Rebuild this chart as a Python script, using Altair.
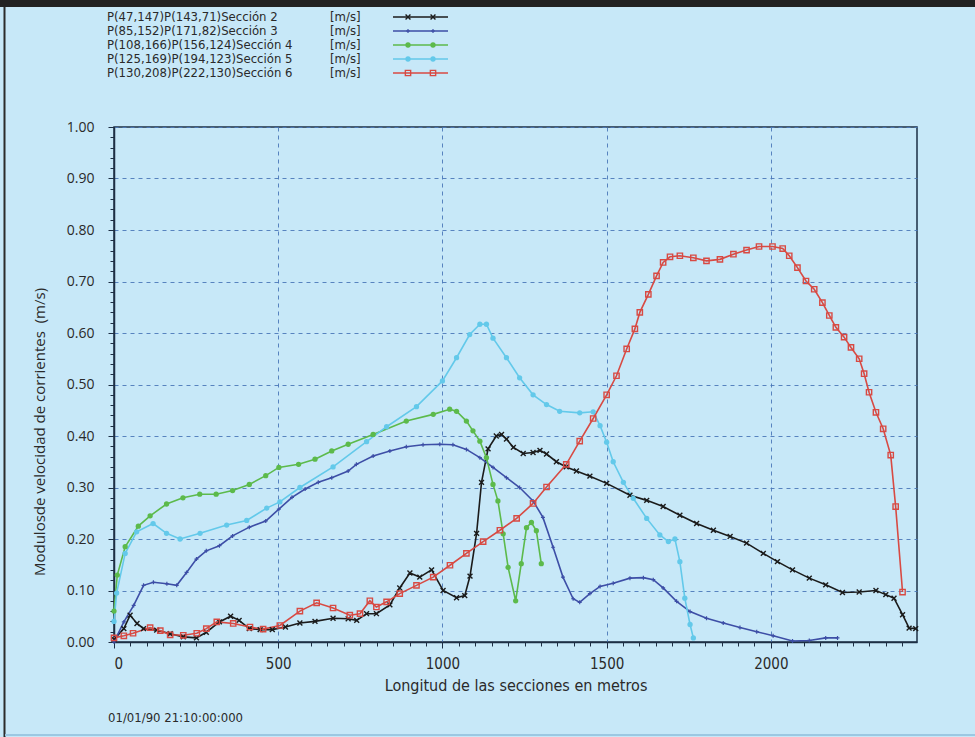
import altair as alt
import pandas as pd

# Series labels, units and colours
NAMES = [
    "P(47,147)P(143,71)Sección 2",
    "P(85,152)P(171,82)Sección 3",
    "P(108,166)P(156,124)Sección 4",
    "P(125,169)P(194,123)Sección 5",
    "P(130,208)P(222,130)Sección 6",
]
UNIT = "[m/s]"
COLORS = ["#1b1b1b", "#3d4ea6", "#5cba4b", "#63c9ea", "#d84a43"]

# Sección 2
X2 = [0, 30, 49, 70, 90, 130, 171, 211, 251, 281, 321, 355, 381, 412, 445, 482, 522, 566, 612,
      667, 713, 739, 769, 799, 840, 870, 901, 931, 967, 1002, 1043, 1068, 1084, 1104, 1119, 1139,
      1164, 1180, 1195, 1216, 1246, 1276, 1297, 1317, 1347, 1377, 1408, 1449, 1500, 1571, 1622,
      1672, 1723, 1774, 1825, 1876, 1926, 1977, 2020, 2066, 2117, 2167, 2218, 2269, 2320, 2350,
      2375, 2401, 2421, 2441]
Y2 = [0.005, 0.026, 0.052, 0.036, 0.026, 0.023, 0.016, 0.010, 0.008, 0.019, 0.039, 0.050, 0.042,
      0.026, 0.024, 0.024, 0.029, 0.037, 0.040, 0.046, 0.045, 0.042, 0.055, 0.055, 0.072, 0.105,
      0.134, 0.126, 0.140, 0.100, 0.086, 0.090, 0.128, 0.211, 0.310, 0.375, 0.400, 0.403, 0.394,
      0.378, 0.366, 0.368, 0.372, 0.365, 0.350, 0.340, 0.332, 0.322, 0.308, 0.285, 0.275, 0.263,
      0.246, 0.230, 0.217, 0.205, 0.192, 0.172, 0.156, 0.140, 0.124, 0.111, 0.096, 0.097, 0.100,
      0.092, 0.085, 0.053, 0.027, 0.026]

# Sección 3
X3 = [0, 30, 60, 90, 120, 161, 191, 221, 251, 281, 321, 361, 412, 462, 502, 542, 582, 622, 663,
      713, 738, 789, 840, 890, 941, 992, 1032, 1073, 1114, 1154, 1195, 1235, 1276, 1306, 1337,
      1367, 1398, 1418, 1449, 1480, 1520, 1571, 1612, 1642, 1672, 1713, 1754, 1804, 1855, 1906,
      1957, 2007, 2066, 2117, 2167, 2203]
Y3 = [0.000, 0.039, 0.071, 0.110, 0.116, 0.113, 0.110, 0.135, 0.161, 0.177, 0.187, 0.206, 0.223,
      0.235, 0.258, 0.281, 0.297, 0.310, 0.319, 0.332, 0.345, 0.361, 0.371, 0.379, 0.383, 0.384,
      0.383, 0.374, 0.358, 0.339, 0.319, 0.300, 0.274, 0.242, 0.184, 0.126, 0.084, 0.077, 0.094,
      0.108, 0.114, 0.124, 0.125, 0.121, 0.105, 0.079, 0.059, 0.046, 0.037, 0.028, 0.020, 0.012,
      0.002, 0.003, 0.008, 0.008]

# Sección 4
X4 = [0, 10, 34, 74, 110, 160, 210, 261, 311, 361, 412, 462, 502, 562, 612, 663, 713, 789, 890,
      972, 1022, 1043, 1073, 1093, 1114, 1134, 1154, 1169, 1185, 1200, 1223, 1240, 1256, 1271,
      1286, 1301]
Y4 = [0.060, 0.130, 0.185, 0.225, 0.245, 0.268, 0.280, 0.287, 0.287, 0.294, 0.306, 0.323, 0.339,
      0.345, 0.355, 0.371, 0.384, 0.403, 0.429, 0.442, 0.452, 0.448, 0.429, 0.410, 0.390, 0.358,
      0.306, 0.274, 0.210, 0.145, 0.080, 0.152, 0.222, 0.232, 0.216, 0.152]

# Sección 5
X5 = [0, 8, 34, 69, 119, 160, 201, 262, 343, 404, 465, 505, 566, 667, 769, 830, 921, 1000, 1043,
      1083, 1114, 1134, 1154, 1195, 1235, 1276, 1317, 1357, 1418, 1459, 1480, 1500, 1520, 1551,
      1581, 1622, 1662, 1688, 1708, 1723, 1738, 1754, 1764]
Y5 = [0.040, 0.095, 0.172, 0.214, 0.230, 0.211, 0.200, 0.211, 0.227, 0.236, 0.260, 0.272, 0.300,
      0.340, 0.389, 0.418, 0.457, 0.507, 0.552, 0.597, 0.617, 0.617, 0.590, 0.552, 0.513, 0.480,
      0.461, 0.448, 0.445, 0.447, 0.420, 0.388, 0.350, 0.310, 0.279, 0.240, 0.208, 0.195, 0.200,
      0.156, 0.085, 0.034, 0.008]

# Sección 6
X6 = [0, 30, 58, 110, 141, 171, 211, 252, 281, 313, 363, 414, 454, 505, 566, 617, 667, 718, 749,
      779, 799, 830, 870, 921, 972, 1023, 1073, 1124, 1175, 1226, 1276, 1317, 1377, 1418, 1459,
      1500, 1530, 1561, 1586, 1601, 1627, 1652, 1672, 1693, 1723, 1764, 1804, 1845, 1886, 1926,
      1964, 2005, 2036, 2056, 2081, 2107, 2132, 2157, 2178, 2198, 2223, 2244, 2269, 2284, 2299,
      2320, 2342, 2365, 2380, 2401]
Y6 = [0.008, 0.012, 0.017, 0.028, 0.022, 0.014, 0.013, 0.017, 0.026, 0.039, 0.036, 0.029, 0.025,
      0.032, 0.060, 0.076, 0.066, 0.052, 0.055, 0.080, 0.068, 0.078, 0.094, 0.110, 0.126, 0.149,
      0.172, 0.195, 0.217, 0.240, 0.269, 0.301, 0.345, 0.390, 0.434, 0.480, 0.517, 0.569, 0.608,
      0.640, 0.675, 0.711, 0.737, 0.748, 0.750, 0.746, 0.740, 0.743, 0.753, 0.761, 0.768, 0.768,
      0.764, 0.750, 0.727, 0.701, 0.685, 0.659, 0.634, 0.611, 0.592, 0.572, 0.550, 0.521, 0.485,
      0.446, 0.414, 0.363, 0.263, 0.097]

X_TICKS = [0, 500, 1000, 1500, 2000]
Y_TICKS = [0.0, 0.1, 0.2, 0.3, 0.4, 0.5, 0.6, 0.7, 0.8, 0.9, 1.0]
X_MINOR = list(range(0, 2445, 50))
Y_MINOR = [i / 50 for i in range(51)]
X_TITLE = "Longitud de las secciones en metros"
Y_TITLE = "Modulosde velocidad de corrientes \u00a0(m/s)"
STAMP = "01/01/90 21:10:00:000"

XS = [X2, X3, X4, X5, X6]
YS = [Y2, Y3, Y4, Y5, Y6]

rows = []
for name, xs, ys in zip(NAMES, XS, YS):
    for a, b in zip(xs, ys):
        rows.append({"serie": name, "x": a, "v": b})
df = pd.DataFrame(rows)

W, H = 803, 515
BG = "#c7e8f8"
GRID = "#4a78b8"
FRAME = "#1d2f44"
TXT = "#2a2a2a"
FONT = "Liberation Sans Narrow, DejaVu Sans Condensed, sans-serif"
NUMFONT = "Open Sans, DejaVu Sans, sans-serif"

xscale = alt.Scale(domain=[0, 2445], nice=False, zero=False)
yscale = alt.Scale(domain=[0, 1], nice=False)

# marker style per series: (shape, filled, size, strokeWidth)
MARKS = [
    ("M-1,-1L1,1M-1,1L1,-1", False, 24, 1.4),
    ("M-1,0L1,0M0,-1L0,1", False, 16, 1.2),
    ("circle", True, 28, 0),
    ("circle", True, 28, 0),
    ("square", False, 28, 1.4),
]

layers = []

lines = alt.Chart(df).mark_line(strokeWidth=1.6).encode(
    x=alt.X("x:Q", scale=xscale, axis=alt.Axis(
        values=X_TICKS, format="d", orient="bottom", grid=True, gridDash=[4, 4],
        gridColor=GRID, gridWidth=1, gridOpacity=0.9, tickSize=6, tickColor=FRAME,
        domainColor=FRAME, domainWidth=1.5, labelFont=FONT, labelFontSize=15,
        labelColor=TXT, labelPadding=8, title=X_TITLE, titleFont=FONT, titleFontSize=16,
        titleFontWeight="normal", titleColor=TXT, titlePadding=6)),
    y=alt.Y("v:Q", scale=yscale, axis=alt.Axis(
        values=Y_TICKS, format=".2f", orient="left", grid=True, gridDash=[4, 4],
        gridColor=GRID, gridWidth=1, gridOpacity=0.9, tickSize=6, tickColor=FRAME,
        domainColor=FRAME, domainWidth=1.5, labelFont=NUMFONT, labelFontSize=14,
        labelColor=TXT, labelPadding=14, title=None)),
    color=alt.Color("serie:N", scale=alt.Scale(domain=NAMES, range=COLORS), legend=None),
)
layers.append(lines)

# minor ticks along both axes
minor = alt.Chart(df).mark_point(opacity=0).encode(
    x=alt.X("x:Q", scale=xscale, axis=alt.Axis(
        values=X_MINOR, labels=False, grid=False, domain=False, tickSize=4,
        tickColor=FRAME, orient="bottom", title=None)),
    y=alt.Y("v:Q", scale=yscale, axis=alt.Axis(
        values=Y_MINOR, labels=False, grid=False, domain=False, tickSize=4,
        tickColor=FRAME, orient="left", title=None)),
)
layers.append(minor)

# markers on each series
for name, col, (shape, filled, size, sw) in zip(NAMES, COLORS, MARKS):
    pts = alt.Chart(df[df.serie == name]).mark_point(
        shape=shape, filled=filled, size=size, strokeWidth=sw, color=col, opacity=1
    ).encode(
        x=alt.X("x:Q", scale=xscale, axis=None),
        y=alt.Y("v:Q", scale=yscale, axis=None),
    )
    layers.append(pts)

# legend block above the plot
LEG_X = 107 - 114
LEG_Y0 = 17 - 127
LEG_DY = 14
for i, (name, col, (shape, filled, size, sw)) in enumerate(zip(NAMES, COLORS, MARKS)):
    yy = LEG_Y0 + i * LEG_DY
    tdf = pd.DataFrame({"t": [name], "u": [UNIT]})
    layers.append(alt.Chart(tdf).mark_text(
        align="left", baseline="middle", font=FONT, fontSize=13, color=TXT
    ).encode(x=alt.value(LEG_X), y=alt.value(yy), text="t:N"))
    layers.append(alt.Chart(tdf).mark_text(
        align="left", baseline="middle", font=FONT, fontSize=13, color=TXT
    ).encode(x=alt.value(330 - 114), y=alt.value(yy), text="u:N"))
    layers.append(alt.Chart(tdf).mark_rule(color=col, strokeWidth=1.4).encode(
        x=alt.value(393 - 114), x2=alt.value(448 - 114), y=alt.value(yy)))
    for mx in (408 - 114, 433 - 114):
        layers.append(alt.Chart(tdf).mark_point(
            shape=shape, filled=filled, size=size, strokeWidth=sw, color=col, opacity=1
        ).encode(x=alt.value(mx), y=alt.value(yy)))

# rotated y-axis title and time stamp
layers.append(alt.Chart(pd.DataFrame({"t": [Y_TITLE]})).mark_text(
    angle=270, align="center", baseline="middle", font=NUMFONT, fontSize=15, color=TXT
).encode(x=alt.value(40 - 114), y=alt.value(432 - 127), text="t:N"))
layers.append(alt.Chart(pd.DataFrame({"t": [STAMP]})).mark_text(
    align="left", baseline="middle", font=FONT, fontSize=13, color=TXT
).encode(x=alt.value(108 - 114), y=alt.value(718 - 127), text="t:N"))

# page frame: dark band on top, line on the left, light line at the bottom
frame_df = pd.DataFrame({"k": [0]})
layers.append(alt.Chart(frame_df).mark_rule(color="#222222", strokeWidth=7).encode(
    x=alt.value(-114), x2=alt.value(861), y=alt.value(3.5 - 127)))
layers.append(alt.Chart(frame_df).mark_rule(color="#2b2b2b", strokeWidth=2).encode(
    x=alt.value(4.5 - 114), y=alt.value(7 - 127), y2=alt.value(737 - 127)))
layers.append(alt.Chart(frame_df).mark_rule(color="#9cc8e2", strokeWidth=2).encode(
    x=alt.value(5 - 114), x2=alt.value(861), y=alt.value(735 - 127)))

chart = alt.layer(*layers).resolve_axis(
    x="independent", y="independent"
).properties(
    width=W, height=H,
    padding={"left": 114, "top": 127, "right": 58, "bottom": 95},
    autosize=alt.AutoSizeParams(type="none"),
    background=BG,
).configure_view(
    fill=BG, stroke=FRAME, strokeWidth=1.5
)

chart.save("out.html", embed_options={"renderer": "svg", "actions": False})
